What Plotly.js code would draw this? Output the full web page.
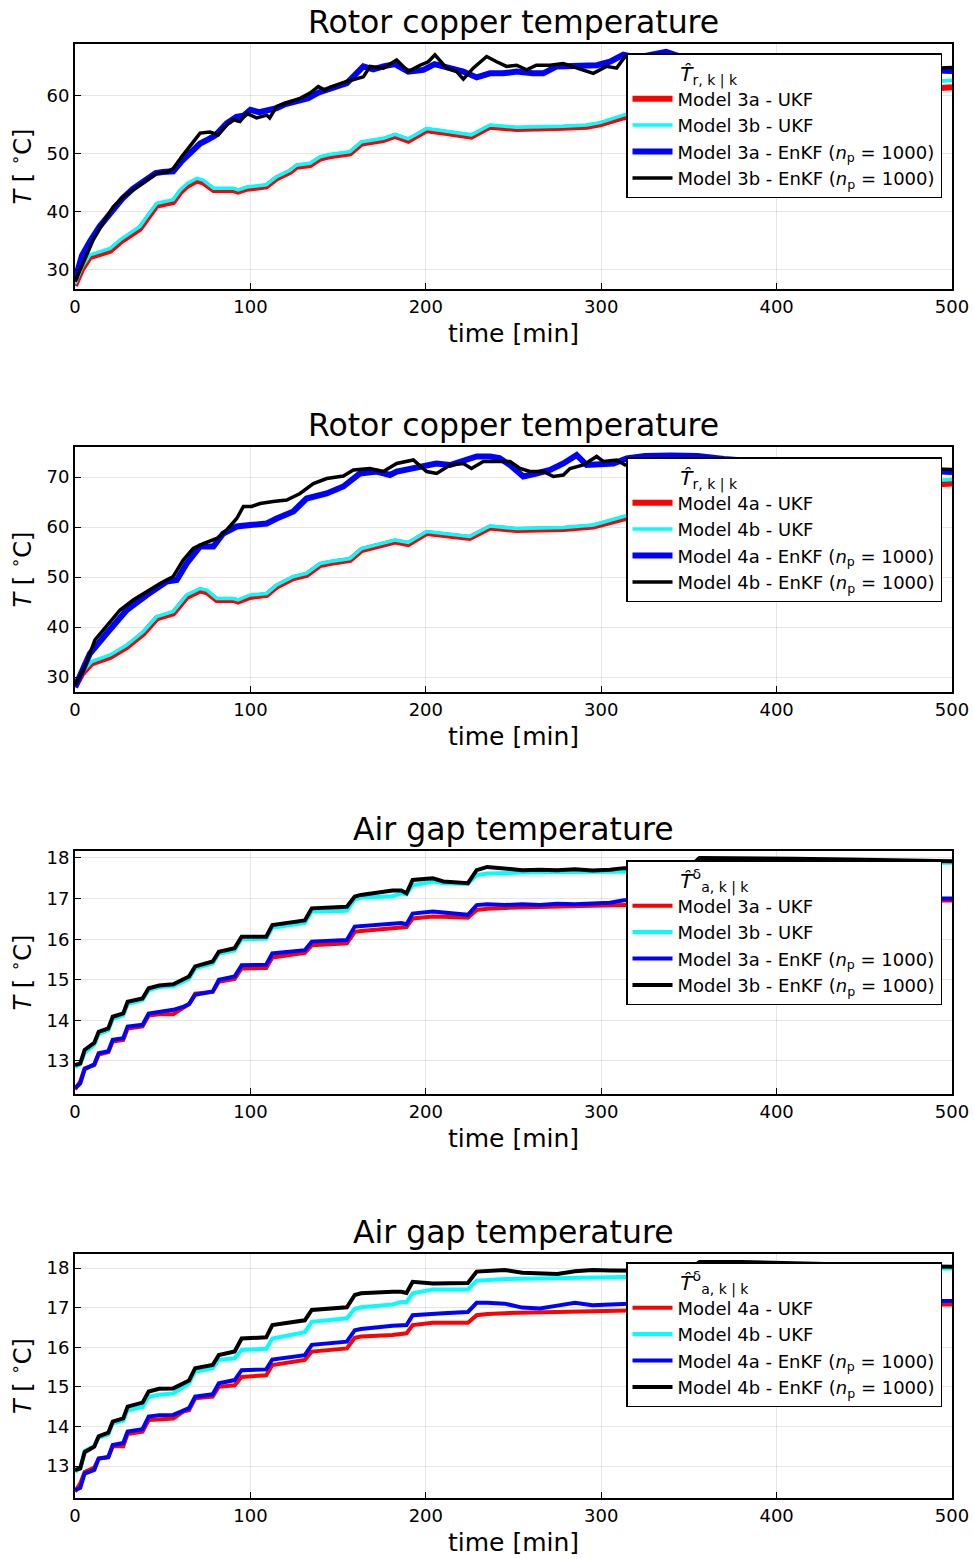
<!DOCTYPE html>
<html>
<head>
<meta charset="utf-8">
<script src="https://cdn.plot.ly/plotly-3.0.1.min.js"></script>
<style>html,body{margin:0;padding:0;background:#fff;}#chart{width:974px;height:1559px;}</style>
</head>
<body>
<div id="chart"></div>
<script>
// ---------- Panel 1: Rotor copper temperature, models 3a/3b ----------
var p1UkfTime = [0, 4, 8.5, 20, 25.7, 37, 41, 46.6, 56, 60, 64, 69.5, 73, 79, 90, 93, 98, 109, 115, 122.6, 126.4, 134, 139.7, 145, 156.8, 163.4, 175.8, 182.4, 190, 200.5, 210, 226, 236.6, 251.8, 278.4, 291.7, 299.3, 312.6, 330, 360, 400, 440, 470, 500];
var p1Ukf3a = [27.3, 30.1, 32.2, 33.3, 34.8, 37.1, 38.8, 41.1, 41.7, 43.4, 44.5, 45.4, 45.1, 43.8, 43.8, 43.5, 44.0, 44.4, 45.8, 46.9, 47.8, 48.1, 49.2, 49.6, 50.1, 51.8, 52.4, 53.1, 52.3, 54.1, 53.7, 53.0, 54.7, 54.3, 54.5, 54.7, 55.1, 56.3, 57.2, 58.3, 59.5, 60.4, 61.0, 61.5];
var p1Ukf3b = [27.6, 30.5, 32.6, 33.7, 35.2, 37.5, 39.2, 41.5, 42.1, 43.8, 44.9, 45.8, 45.5, 44.1, 44.1, 43.8, 44.3, 44.7, 46.1, 47.2, 48.1, 48.4, 49.5, 49.9, 50.4, 52.1, 52.7, 53.4, 52.6, 54.4, 54.0, 53.3, 55.0, 54.6, 54.8, 55.0, 55.4, 56.7, 57.8, 59.0, 60.3, 61.3, 62.0, 62.7];
var p1Enkf3aTime = [0, 4, 8.5, 14, 20, 27, 33, 40, 46, 50, 56, 61, 66, 71.3, 76, 80, 86.5, 92, 96, 100, 105, 110, 115, 120, 125, 133, 139, 145.4, 155, 164.4, 170, 175.8, 182.4, 190, 198.6, 205, 210, 217.6, 221.4, 229, 236.6, 244, 251.8, 261, 267, 274.6, 282, 290, 297.6, 305, 312.6, 320, 330, 337, 345, 370, 400, 430, 460, 490, 500];
var p1Enkf3a = [28.3, 32.5, 34.9, 37.5, 39.7, 42.3, 44.0, 45.4, 46.7, 46.9, 47.0, 48.8, 50.3, 51.8, 52.5, 53.2, 55.3, 56.4, 56.6, 57.6, 57.2, 57.6, 57.9, 58.6, 59.0, 59.6, 60.6, 61.3, 62.2, 65.1, 64.6, 65.1, 65.5, 64.2, 64.5, 65.5, 65.1, 64.5, 64.2, 63.2, 63.9, 63.9, 64.2, 63.9, 63.9, 65.1, 65.1, 65.3, 65.3, 65.9, 67.1, 66.6, 67.3, 67.6, 66.8, 66.0, 65.4, 65.0, 64.8, 64.4, 64.3];
var p1Enkf3bTime = [0, 4.7, 10.4, 16, 21.8, 27.5, 33.2, 38.9, 46.6, 52.3, 56, 60.8, 66.5, 71.3, 77, 81.7, 86.5, 90.3, 94, 97.9, 103.6, 109.3, 111, 115, 122.6, 128.3, 134, 138.7, 142.5, 145.4, 154.9, 164.4, 168.2, 175.8, 183.4, 190, 196.7, 201.4, 205.2, 211.9, 217.6, 221.4, 227, 234.7, 240.4, 246, 251.8, 257.5, 263, 270.8, 278.4, 286, 295.5, 303, 308.8, 313.6, 320, 330, 345, 370, 400, 430, 460, 490, 500];
var p1Enkf3b = [28.0, 31.2, 35.2, 38.1, 40.9, 42.6, 43.8, 44.9, 46.7, 46.9, 47.5, 49.5, 51.6, 53.6, 53.8, 53.3, 55.0, 55.9, 55.6, 57.0, 56.2, 56.7, 56.2, 58.2, 59.0, 59.6, 60.5, 61.6, 61.0, 61.5, 62.5, 63.3, 65.1, 64.8, 66.2, 64.2, 65.3, 65.9, 67.1, 64.8, 64.2, 62.9, 64.8, 66.8, 65.9, 65.1, 65.3, 64.5, 65.3, 65.3, 65.6, 64.8, 63.9, 65.1, 64.8, 66.8, 66.3, 66.0, 65.5, 65.8, 65.2, 65.6, 65.0, 64.8, 64.9];

// ---------- Panel 2: Rotor copper temperature, models 4a/4b ----------
var p2UkfTime = [0, 4, 9.5, 20, 29.5, 39, 46.6, 56, 63.7, 71.3, 75, 80.8, 90.3, 93, 99.8, 109.3, 115, 124.5, 132, 139.7, 145.4, 156.8, 163.4, 175.8, 182.4, 190, 200.5, 225, 236.6, 251.8, 278.4, 295.5, 312.6, 330, 360, 400, 440, 470, 500];
var p2Ukf4a = [28.0, 30.6, 32.7, 34.0, 36.0, 38.7, 41.7, 42.7, 46.0, 47.3, 47.0, 45.4, 45.4, 45.1, 46.0, 46.4, 48.1, 49.8, 50.4, 52.4, 52.8, 53.4, 55.4, 56.4, 57.1, 56.6, 58.8, 57.8, 59.9, 59.4, 59.6, 60.1, 61.7, 62.8, 64.5, 66.2, 67.4, 68.1, 68.7];
var p2Ukf4b = [28.4, 31.0, 33.1, 34.4, 36.4, 39.1, 42.1, 43.1, 46.4, 47.7, 47.4, 45.7, 45.7, 45.4, 46.4, 46.7, 48.4, 50.1, 50.7, 52.7, 53.1, 53.7, 55.7, 56.7, 57.4, 56.9, 59.1, 58.1, 60.2, 59.7, 59.9, 60.4, 62.1, 63.4, 65.2, 66.9, 68.1, 68.9, 69.5];
var p2Enkf4aTime = [0, 4, 8.5, 18, 29.5, 40.9, 52.3, 58, 63.7, 71.3, 78.9, 84.5, 92.2, 99.8, 109.3, 115, 124.5, 132, 143.5, 153, 162.5, 172, 179.6, 183.4, 191, 200.5, 206, 213.8, 221.4, 229, 236.6, 242, 248, 255.6, 263, 270.8, 278.4, 286, 291.7, 299, 307, 314.5, 325, 340, 355, 370, 400, 430, 460, 490, 500];
var p2Enkf4a = [28.0, 31.5, 34.7, 38.7, 43.4, 46.4, 49.1, 49.4, 52.7, 56.1, 56.1, 58.7, 60.1, 60.4, 60.7, 61.7, 63.1, 65.7, 66.7, 68.1, 70.7, 71.1, 70.4, 71.1, 71.7, 72.4, 72.7, 72.4, 73.4, 74.1, 74.1, 73.8, 72.4, 70.1, 70.7, 71.4, 72.7, 74.4, 72.4, 72.4, 72.7, 73.7, 74.2, 74.3, 74.2, 73.6, 72.8, 72.0, 71.6, 71.2, 71.0];
var p2Enkf4bTime = [0, 5.7, 11.4, 18, 25.7, 33.2, 40.9, 48.5, 56, 61.7, 67.4, 73.1, 80.8, 86.5, 92.2, 96, 100.7, 105.5, 113, 120.7, 128.3, 135.9, 143.5, 153, 158.7, 168.2, 175.8, 183.4, 192.9, 200.5, 206.2, 213.8, 221.4, 226, 232.8, 240.4, 248, 253.7, 259.4, 267, 272.7, 278.4, 282.2, 289.8, 297.4, 301.2, 308.8, 313.6, 325, 340, 360, 390, 420, 450, 480, 500];
var p2Enkf4b = [28.4, 32.1, 37.4, 40.1, 43.4, 45.4, 47.1, 48.7, 50.1, 53.4, 55.7, 56.7, 57.7, 59.4, 61.7, 64.1, 64.1, 64.7, 65.1, 65.4, 66.7, 68.7, 69.7, 70.2, 71.4, 71.7, 71.1, 72.7, 73.4, 71.1, 70.7, 72.4, 72.7, 71.7, 73.1, 73.1, 73.1, 71.7, 71.1, 71.1, 70.1, 70.4, 71.7, 72.4, 74.1, 73.1, 73.4, 72.4, 73.0, 72.5, 72.8, 72.2, 72.5, 72.0, 71.8, 71.5];

// ---------- Panels 3 & 4: Air gap temperature ----------
var airTime = [0, 3, 5.5, 11, 13.5, 19, 21.5, 27.5, 30, 38.5, 42, 48, 56, 62, 65, 68.5, 78.5, 82, 91, 95, 109, 112.5, 131, 135, 155, 159.5, 163, 181, 186, 189, 192.5, 204, 210, 224, 229, 235, 245, 255, 265, 275, 285, 295, 305, 313, 330, 350, 356, 380, 410, 440, 470, 500];
var p3Ukf3a = [12.30, 12.50, 12.82, 12.90, 13.16, 13.22, 13.48, 13.52, 13.80, 13.85, 14.12, 14.15, 14.15, 14.30, 14.40, 14.66, 14.70, 14.95, 15.02, 15.28, 15.29, 15.55, 15.66, 15.85, 15.90, 16.18, 16.20, 16.27, 16.30, 16.30, 16.51, 16.56, 16.55, 16.53, 16.72, 16.75, 16.77, 16.78, 16.78, 16.79, 16.80, 16.81, 16.82, 16.84, 16.86, 16.88, 16.92, 16.93, 16.94, 16.95, 16.95, 16.95];
var p3Ukf3b = [12.85, 12.92, 13.20, 13.40, 13.66, 13.76, 14.03, 14.12, 14.40, 14.50, 14.74, 14.82, 14.84, 14.95, 15.02, 15.28, 15.40, 15.64, 15.72, 16.00, 16.01, 16.28, 16.40, 16.68, 16.70, 16.98, 17.02, 17.06, 17.13, 17.10, 17.33, 17.42, 17.38, 17.36, 17.58, 17.62, 17.64, 17.64, 17.65, 17.65, 17.65, 17.65, 17.66, 17.66, 17.67, 17.70, 17.85, 17.87, 17.88, 17.88, 17.88, 17.88];
var p3Enkf3a = [12.33, 12.45, 12.80, 12.92, 13.19, 13.24, 13.52, 13.56, 13.85, 13.89, 14.17, 14.21, 14.26, 14.34, 14.40, 14.63, 14.71, 15.00, 15.08, 15.36, 15.37, 15.65, 15.73, 15.94, 15.98, 16.31, 16.32, 16.39, 16.40, 16.37, 16.63, 16.68, 16.65, 16.60, 16.84, 16.86, 16.84, 16.86, 16.84, 16.87, 16.86, 16.88, 16.90, 16.96, 16.96, 16.97, 17.00, 17.00, 17.00, 17.00, 17.00, 17.00];
var p3Enkf3b = [12.90, 12.94, 13.27, 13.45, 13.72, 13.80, 14.09, 14.17, 14.46, 14.54, 14.79, 14.86, 14.89, 15.00, 15.08, 15.33, 15.45, 15.69, 15.78, 16.06, 16.06, 16.35, 16.46, 16.76, 16.80, 17.05, 17.09, 17.20, 17.20, 17.13, 17.46, 17.50, 17.42, 17.38, 17.70, 17.78, 17.73, 17.70, 17.71, 17.70, 17.72, 17.69, 17.71, 17.75, 17.74, 17.76, 18.00, 18.00, 17.98, 17.96, 17.94, 17.92];
var p4Ukf4a = [12.35, 12.56, 12.85, 12.96, 13.19, 13.22, 13.50, 13.50, 13.81, 13.87, 14.16, 14.18, 14.20, 14.38, 14.41, 14.71, 14.75, 15.00, 15.04, 15.25, 15.29, 15.55, 15.68, 15.89, 15.97, 16.24, 16.27, 16.31, 16.35, 16.35, 16.56, 16.62, 16.62, 16.62, 16.81, 16.84, 16.86, 16.87, 16.88, 16.88, 16.89, 16.90, 16.91, 16.92, 16.94, 16.96, 17.05, 17.06, 17.07, 17.08, 17.08, 17.08];
var p4Ukf4b = [12.85, 12.95, 13.38, 13.50, 13.72, 13.80, 14.08, 14.14, 14.41, 14.49, 14.75, 14.80, 14.83, 15.02, 15.09, 15.38, 15.47, 15.68, 15.72, 15.93, 15.96, 16.22, 16.38, 16.64, 16.73, 16.97, 17.01, 17.08, 17.14, 17.14, 17.36, 17.46, 17.46, 17.46, 17.68, 17.70, 17.72, 17.73, 17.74, 17.74, 17.75, 17.75, 17.76, 17.77, 17.78, 17.80, 17.96, 17.98, 17.99, 17.99, 17.99, 17.99];
var p4Enkf4a = [12.39, 12.45, 12.81, 12.90, 13.19, 13.23, 13.53, 13.58, 13.87, 13.93, 14.25, 14.28, 14.29, 14.42, 14.46, 14.75, 14.81, 15.09, 15.17, 15.42, 15.44, 15.69, 15.80, 16.06, 16.14, 16.43, 16.46, 16.54, 16.56, 16.56, 16.81, 16.85, 16.86, 16.89, 17.12, 17.12, 17.10, 17.00, 16.98, 17.05, 17.12, 17.06, 17.08, 17.10, 17.12, 17.14, 17.16, 17.16, 17.17, 17.17, 17.17, 17.17];
var p4Enkf4b = [12.90, 12.94, 13.35, 13.49, 13.75, 13.84, 14.12, 14.20, 14.50, 14.60, 14.88, 14.95, 14.96, 15.10, 15.16, 15.47, 15.55, 15.80, 15.89, 16.22, 16.25, 16.56, 16.68, 16.94, 17.01, 17.32, 17.36, 17.40, 17.40, 17.37, 17.65, 17.61, 17.61, 17.62, 17.91, 17.93, 17.95, 17.88, 17.87, 17.85, 17.92, 17.95, 17.94, 17.93, 17.93, 17.95, 18.15, 18.15, 18.13, 18.09, 18.05, 18.03];

// ---------- Labels ----------
var panelTitles = ['Rotor copper temperature', 'Rotor copper temperature', 'Air gap temperature', 'Air gap temperature'];
var legendTitles = ['<i>T̂</i><sub>r, k | k</sub>', '<i>T̂</i><sub>r, k | k</sub>', '<i>T̂</i><sup>δ</sup><sub>a, k | k</sub>', '<i>T̂</i><sup>δ</sup><sub>a, k | k</sub>'];
var seriesNames = [
  ['Model 3a - UKF', 'Model 3b - UKF', 'Model 3a - EnKF (<i>n</i><sub>p</sub> = 1000)', 'Model 3b - EnKF (<i>n</i><sub>p</sub> = 1000)'],
  ['Model 4a - UKF', 'Model 4b - UKF', 'Model 4a - EnKF (<i>n</i><sub>p</sub> = 1000)', 'Model 4b - EnKF (<i>n</i><sub>p</sub> = 1000)'],
  ['Model 3a - UKF', 'Model 3b - UKF', 'Model 3a - EnKF (<i>n</i><sub>p</sub> = 1000)', 'Model 3b - EnKF (<i>n</i><sub>p</sub> = 1000)'],
  ['Model 4a - UKF', 'Model 4b - UKF', 'Model 4a - EnKF (<i>n</i><sub>p</sub> = 1000)', 'Model 4b - EnKF (<i>n</i><sub>p</sub> = 1000)']
];
var xTicks = [0, 100, 200, 300, 400, 500];
var yTicksRotor1 = [30, 40, 50, 60];
var yTicksRotor2 = [30, 40, 50, 60, 70];
var yTicksAir = [13, 14, 15, 16, 17, 18];

// ---------- Build ----------
var FONT = 'DejaVu Sans, Liberation Sans, sans-serif';
var colors = ['#ff0000', '#00ffff', '#0000ff', '#000000'];
var panelData = [
  [[p1UkfTime, p1Ukf3a], [p1UkfTime, p1Ukf3b], [p1Enkf3aTime, p1Enkf3a], [p1Enkf3bTime, p1Enkf3b]],
  [[p2UkfTime, p2Ukf4a], [p2UkfTime, p2Ukf4b], [p2Enkf4aTime, p2Enkf4a], [p2Enkf4bTime, p2Enkf4b]],
  [[airTime, p3Ukf3a], [airTime, p3Ukf3b], [airTime, p3Enkf3a], [airTime, p3Enkf3b]],
  [[airTime, p4Ukf4a], [airTime, p4Ukf4b], [airTime, p4Enkf4a], [airTime, p4Enkf4b]]
];
var widths = [[6, 3.5, 6, 3.5], [6, 3.5, 6, 3.5], [4, 4, 4, 4], [4, 4, 4, 4]];

// geometry (px) of the reference
var W = 974, H = 1559, mL = 75, mR = 22, mT = 44, mB = 61;
var pw = W - mL - mR, ph = H - mT - mB;
function py(p) { return (H - mB - p) / ph; }
function px(p) { return (p - mL) / pw; }
var plotTops = [44, 447, 851, 1254], plotBots = [289, 692, 1094, 1498];
var yRanges = [[26.72, 68.96], [27, 76], [12.187, 18.172], [12.192, 18.354]];
var yTickSets = [yTicksRotor1, yTicksRotor2, yTicksAir, yTicksAir];
var legendTops = [53, 457, 860, 1262];
var indent = '\u00a0\u00a0\u00a0\u00a0\u00a0\u00a0\u00a0\u00a0';

var traces = [];
var layout = {
  width: W, height: H,
  margin: {l: mL, r: mR, t: mT, b: mB},
  paper_bgcolor: '#ffffff', plot_bgcolor: '#ffffff',
  font: {family: FONT, color: '#000', size: 18},
  annotations: [],
  showlegend: true
};
for (var i = 0; i < 4; i++) {
  var sfx = i === 0 ? '' : String(i + 1);
  var legName = 'legend' + (i === 0 ? '' : String(i + 1));
  for (var s = 0; s < 4; s++) {
    traces.push({
      type: 'scatter', mode: 'lines',
      x: panelData[i][s][0], y: panelData[i][s][1],
      name: seriesNames[i][s],
      line: {color: colors[s], width: widths[i][s]},
      xaxis: 'x' + sfx, yaxis: 'y' + sfx,
      legend: legName,
      hoverinfo: 'skip'
    });
  }
  layout['xaxis' + sfx] = {
    domain: [0, 1], anchor: 'y' + sfx, range: [0, 500],
    tickvals: xTicks, ticktext: xTicks.map(String),
    ticks: 'inside', ticklen: 6, tickwidth: 1, tickcolor: '#000',
    showline: true, linecolor: '#000', linewidth: 2, mirror: true,
    showgrid: true, gridcolor: 'rgba(0,0,0,0.1)', gridwidth: 1,
    zeroline: false, tickfont: {size: 18, family: FONT},
    title: {text: 'time [min]', font: {size: 25, family: FONT}, standoff: 9}
  };
  layout['yaxis' + sfx] = {
    domain: [py(plotBots[i]), py(plotTops[i])], anchor: 'x' + sfx, range: yRanges[i],
    tickvals: yTickSets[i], ticktext: yTickSets[i].map(String),
    ticks: 'inside', ticklen: 6, tickwidth: 1, tickcolor: '#000',
    showline: true, linecolor: '#000', linewidth: 2, mirror: true,
    showgrid: true, gridcolor: 'rgba(0,0,0,0.1)', gridwidth: 1,
    zeroline: false, tickfont: {size: 18, family: FONT},
    title: {text: '<i>T</i> [ <sup>∘</sup>C]', font: {size: 24, family: FONT}, standoff: 8}
  };
  layout[legName] = {
    x: px(942), xanchor: 'right', y: py(legendTops[i]), yanchor: 'top',
    bgcolor: '#ffffff', bordercolor: '#000', borderwidth: 1.5,
    font: {size: 18, family: FONT},
    title: {text: indent + legendTitles[i], side: 'top', font: {size: 20, family: FONT}},
    itemwidth: 40, tracegroupgap: 0
  };
  layout.annotations.push({
    text: panelTitles[i], xref: 'paper', yref: 'paper',
    x: px(513.5), y: py(plotTops[i] - 22), xanchor: 'center', yanchor: 'middle',
    showarrow: false, font: {size: 31.5, family: FONT, color: '#000'}
  });
}
Plotly.newPlot('chart', traces, layout, {displayModeBar: false, staticPlot: true});
</script>
</body>
</html>
